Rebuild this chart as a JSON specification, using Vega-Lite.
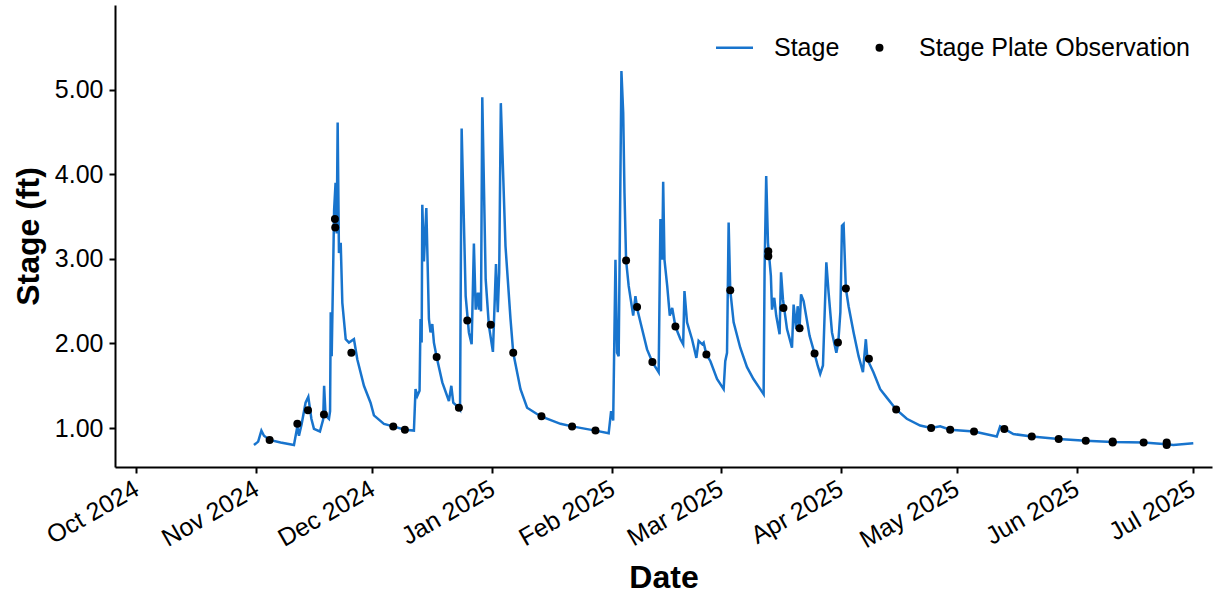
{
  "$schema": "https://vega.github.io/schema/vega-lite/v6.json",
  "width": 1097,
  "height": 462,
  "autosize": {"type": "none"},
  "padding": {"left": 115, "top": 5, "right": 2, "bottom": 129},
  "config": {
    "view": {"stroke": null},
    "font": "Liberation Sans",
    "axis": {
      "grid": false,
      "domainColor": "black",
      "domainWidth": 2,
      "tickColor": "black",
      "tickWidth": 2,
      "tickSize": 6,
      "labelColor": "black",
      "labelFont": "Liberation Sans",
      "labelFontSize": 25,
      "titleFont": "Liberation Sans",
      "titleFontSize": 32,
      "titleFontWeight": "bold",
      "titleColor": "black"
    }
  },
  "datasets": {
    "stage": [
      {"t": "2024-10-31T10:00", "v": 0.80},
      {"t": "2024-11-01T12:00", "v": 0.84},
      {"t": "2024-11-02T08:00", "v": 0.97},
      {"t": "2024-11-03T00:00", "v": 0.91},
      {"t": "2024-11-04T11:00", "v": 0.86},
      {"t": "2024-11-07T07:00", "v": 0.83},
      {"t": "2024-11-10T18:00", "v": 0.80},
      {"t": "2024-11-11T15:00", "v": 1.02},
      {"t": "2024-11-12T01:00", "v": 0.91},
      {"t": "2024-11-12T18:00", "v": 1.05},
      {"t": "2024-11-13T18:00", "v": 1.30},
      {"t": "2024-11-14T11:00", "v": 1.37},
      {"t": "2024-11-15T06:00", "v": 1.11},
      {"t": "2024-11-15T22:00", "v": 0.99},
      {"t": "2024-11-17T11:00", "v": 0.96},
      {"t": "2024-11-18T07:00", "v": 1.10},
      {"t": "2024-11-18T13:00", "v": 1.50},
      {"t": "2024-11-18T22:00", "v": 1.15},
      {"t": "2024-11-19T19:00", "v": 1.11},
      {"t": "2024-11-20T02:00", "v": 1.20},
      {"t": "2024-11-20T06:00", "v": 2.37},
      {"t": "2024-11-20T12:00", "v": 1.85},
      {"t": "2024-11-20T21:00", "v": 2.87},
      {"t": "2024-11-21T03:00", "v": 3.58},
      {"t": "2024-11-21T12:00", "v": 3.90},
      {"t": "2024-11-21T19:00", "v": 3.30},
      {"t": "2024-11-22T01:00", "v": 4.61},
      {"t": "2024-11-22T09:00", "v": 3.07},
      {"t": "2024-11-22T20:00", "v": 3.19},
      {"t": "2024-11-23T06:00", "v": 2.48},
      {"t": "2024-11-24T03:00", "v": 2.05},
      {"t": "2024-11-24T23:00", "v": 2.01},
      {"t": "2024-11-26T06:00", "v": 2.05},
      {"t": "2024-11-27T03:00", "v": 1.81},
      {"t": "2024-11-28T20:00", "v": 1.50},
      {"t": "2024-11-30T13:00", "v": 1.30},
      {"t": "2024-12-01T10:00", "v": 1.15},
      {"t": "2024-12-04T00:00", "v": 1.05},
      {"t": "2024-12-06T10:00", "v": 1.02},
      {"t": "2024-12-09T10:00", "v": 0.98},
      {"t": "2024-12-11T18:00", "v": 0.97},
      {"t": "2024-12-12T04:00", "v": 1.46},
      {"t": "2024-12-12T15:00", "v": 1.38},
      {"t": "2024-12-13T05:00", "v": 1.44},
      {"t": "2024-12-13T11:00", "v": 2.29},
      {"t": "2024-12-13T18:00", "v": 2.01},
      {"t": "2024-12-13T22:00", "v": 3.64},
      {"t": "2024-12-14T08:00", "v": 2.97},
      {"t": "2024-12-14T23:00", "v": 3.60},
      {"t": "2024-12-15T15:00", "v": 2.29},
      {"t": "2024-12-16T01:00", "v": 2.13},
      {"t": "2024-12-16T12:00", "v": 2.23},
      {"t": "2024-12-16T22:00", "v": 2.01},
      {"t": "2024-12-17T15:00", "v": 1.84},
      {"t": "2024-12-19T02:00", "v": 1.54},
      {"t": "2024-12-20T19:00", "v": 1.32},
      {"t": "2024-12-21T10:00", "v": 1.50},
      {"t": "2024-12-21T22:00", "v": 1.30},
      {"t": "2024-12-23T09:00", "v": 1.24},
      {"t": "2024-12-23T16:00", "v": 1.22},
      {"t": "2024-12-24T02:00", "v": 4.54},
      {"t": "2024-12-25T03:00", "v": 2.56},
      {"t": "2024-12-25T23:00", "v": 2.13},
      {"t": "2024-12-26T16:00", "v": 1.99},
      {"t": "2024-12-27T06:00", "v": 3.18},
      {"t": "2024-12-27T17:00", "v": 2.40},
      {"t": "2024-12-28T07:00", "v": 2.60},
      {"t": "2024-12-28T13:00", "v": 2.40},
      {"t": "2024-12-28T19:00", "v": 2.60},
      {"t": "2024-12-29T02:00", "v": 2.38},
      {"t": "2024-12-29T10:00", "v": 4.91},
      {"t": "2024-12-30T07:00", "v": 2.76},
      {"t": "2024-12-31T03:00", "v": 2.21},
      {"t": "2025-01-01T04:00", "v": 1.90},
      {"t": "2025-01-01T23:00", "v": 2.94},
      {"t": "2025-01-02T10:00", "v": 2.37},
      {"t": "2025-01-02T19:00", "v": 2.84},
      {"t": "2025-01-03T05:00", "v": 4.84},
      {"t": "2025-01-04T10:00", "v": 3.15},
      {"t": "2025-01-05T17:00", "v": 2.29},
      {"t": "2025-01-06T10:00", "v": 1.89},
      {"t": "2025-01-08T07:00", "v": 1.46},
      {"t": "2025-01-10T00:00", "v": 1.24},
      {"t": "2025-01-13T11:00", "v": 1.14},
      {"t": "2025-01-18T15:00", "v": 1.05},
      {"t": "2025-01-21T15:00", "v": 1.02},
      {"t": "2025-01-27T16:00", "v": 0.97},
      {"t": "2025-01-31T02:00", "v": 0.94},
      {"t": "2025-01-31T17:00", "v": 1.20},
      {"t": "2025-02-01T06:00", "v": 1.09},
      {"t": "2025-02-01T20:00", "v": 2.99},
      {"t": "2025-02-02T06:00", "v": 1.89},
      {"t": "2025-02-02T16:00", "v": 1.85},
      {"t": "2025-02-02T23:00", "v": 3.21},
      {"t": "2025-02-03T09:00", "v": 5.22},
      {"t": "2025-02-03T20:00", "v": 4.73},
      {"t": "2025-02-04T04:00", "v": 3.78},
      {"t": "2025-02-04T14:00", "v": 2.98},
      {"t": "2025-02-05T06:00", "v": 2.68},
      {"t": "2025-02-06T10:00", "v": 2.33},
      {"t": "2025-02-07T00:00", "v": 2.56},
      {"t": "2025-02-07T12:00", "v": 2.40},
      {"t": "2025-02-08T07:00", "v": 2.25},
      {"t": "2025-02-10T00:00", "v": 1.93},
      {"t": "2025-02-11T09:00", "v": 1.78},
      {"t": "2025-02-13T00:00", "v": 1.66},
      {"t": "2025-02-13T11:00", "v": 3.47},
      {"t": "2025-02-13T22:00", "v": 2.99},
      {"t": "2025-02-14T04:00", "v": 3.91},
      {"t": "2025-02-14T12:00", "v": 2.99},
      {"t": "2025-02-15T05:00", "v": 2.68},
      {"t": "2025-02-15T21:00", "v": 2.33},
      {"t": "2025-02-16T12:00", "v": 2.42},
      {"t": "2025-02-17T08:00", "v": 2.20},
      {"t": "2025-02-18T15:00", "v": 2.05},
      {"t": "2025-02-19T08:00", "v": 1.99},
      {"t": "2025-02-19T16:00", "v": 2.62},
      {"t": "2025-02-20T08:00", "v": 2.25},
      {"t": "2025-02-21T15:00", "v": 2.05},
      {"t": "2025-02-22T18:00", "v": 1.83},
      {"t": "2025-02-23T08:00", "v": 2.03},
      {"t": "2025-02-24T06:00", "v": 1.99},
      {"t": "2025-02-24T15:00", "v": 2.01},
      {"t": "2025-02-25T08:00", "v": 1.87},
      {"t": "2025-02-26T09:00", "v": 1.79},
      {"t": "2025-02-28T02:00", "v": 1.58},
      {"t": "2025-03-01T19:00", "v": 1.46},
      {"t": "2025-03-02T05:00", "v": 1.79},
      {"t": "2025-03-02T16:00", "v": 1.89},
      {"t": "2025-03-03T02:00", "v": 3.43},
      {"t": "2025-03-03T12:00", "v": 2.63},
      {"t": "2025-03-04T09:00", "v": 2.25},
      {"t": "2025-03-06T02:00", "v": 1.95},
      {"t": "2025-03-07T20:00", "v": 1.72},
      {"t": "2025-03-09T12:00", "v": 1.58},
      {"t": "2025-03-11T06:00", "v": 1.46},
      {"t": "2025-03-12T03:00", "v": 1.40},
      {"t": "2025-03-12T09:00", "v": 2.87},
      {"t": "2025-03-12T19:00", "v": 3.98},
      {"t": "2025-03-13T06:00", "v": 3.19},
      {"t": "2025-03-14T00:00", "v": 2.80},
      {"t": "2025-03-14T07:00", "v": 2.40},
      {"t": "2025-03-14T21:00", "v": 2.54},
      {"t": "2025-03-15T09:00", "v": 2.33},
      {"t": "2025-03-16T06:00", "v": 2.11},
      {"t": "2025-03-16T15:00", "v": 2.84},
      {"t": "2025-03-17T03:00", "v": 2.52},
      {"t": "2025-03-18T04:00", "v": 2.17},
      {"t": "2025-03-19T11:00", "v": 1.95},
      {"t": "2025-03-19T21:00", "v": 2.46},
      {"t": "2025-03-20T13:00", "v": 2.17},
      {"t": "2025-03-20T22:00", "v": 2.44},
      {"t": "2025-03-21T10:00", "v": 2.18},
      {"t": "2025-03-21T19:00", "v": 2.58},
      {"t": "2025-03-22T11:00", "v": 2.50},
      {"t": "2025-03-24T00:00", "v": 2.09},
      {"t": "2025-03-25T07:00", "v": 1.88},
      {"t": "2025-03-26T02:00", "v": 1.74},
      {"t": "2025-03-26T18:00", "v": 1.64},
      {"t": "2025-03-27T11:00", "v": 1.74},
      {"t": "2025-03-28T08:00", "v": 2.96},
      {"t": "2025-03-28T22:00", "v": 2.60},
      {"t": "2025-03-29T19:00", "v": 2.13},
      {"t": "2025-03-30T22:00", "v": 1.89},
      {"t": "2025-03-31T10:00", "v": 2.01},
      {"t": "2025-03-31T23:00", "v": 2.37},
      {"t": "2025-04-01T09:00", "v": 3.39},
      {"t": "2025-04-01T19:00", "v": 3.41},
      {"t": "2025-04-02T09:00", "v": 2.65},
      {"t": "2025-04-03T02:00", "v": 2.44},
      {"t": "2025-04-04T09:00", "v": 2.13},
      {"t": "2025-04-05T16:00", "v": 1.85},
      {"t": "2025-04-06T19:00", "v": 1.66},
      {"t": "2025-04-07T13:00", "v": 2.05},
      {"t": "2025-04-07T23:00", "v": 1.81},
      {"t": "2025-04-09T12:00", "v": 1.66},
      {"t": "2025-04-11T06:00", "v": 1.46},
      {"t": "2025-04-12T23:00", "v": 1.36},
      {"t": "2025-04-15T09:00", "v": 1.22},
      {"t": "2025-04-18T03:00", "v": 1.11},
      {"t": "2025-04-21T14:00", "v": 1.03},
      {"t": "2025-04-24T10:00", "v": 1.00},
      {"t": "2025-04-26T18:00", "v": 1.02},
      {"t": "2025-04-29T08:00", "v": 0.98},
      {"t": "2025-05-05T12:00", "v": 0.96},
      {"t": "2025-05-11T09:00", "v": 0.90},
      {"t": "2025-05-12T06:00", "v": 1.02},
      {"t": "2025-05-13T08:00", "v": 0.99},
      {"t": "2025-05-15T16:00", "v": 0.93},
      {"t": "2025-05-20T10:00", "v": 0.90},
      {"t": "2025-05-27T09:00", "v": 0.87},
      {"t": "2025-06-03T09:00", "v": 0.85},
      {"t": "2025-06-10T08:00", "v": 0.835},
      {"t": "2025-06-18T08:00", "v": 0.83},
      {"t": "2025-06-24T07:00", "v": 0.81},
      {"t": "2025-06-26T00:00", "v": 0.80},
      {"t": "2025-07-01T04:00", "v": 0.82}
    ],
    "obs": [
      {"t": "2024-11-04T11:00", "v": 0.86},
      {"t": "2024-11-11T15:00", "v": 1.05},
      {"t": "2024-11-14T09:00", "v": 1.21},
      {"t": "2024-11-18T12:00", "v": 1.16},
      {"t": "2024-11-21T08:00", "v": 3.47},
      {"t": "2024-11-21T10:00", "v": 3.37},
      {"t": "2024-11-25T14:00", "v": 1.89},
      {"t": "2024-12-06T10:00", "v": 1.02},
      {"t": "2024-12-09T10:00", "v": 0.98},
      {"t": "2024-12-17T15:00", "v": 1.84},
      {"t": "2024-12-23T09:00", "v": 1.24},
      {"t": "2024-12-25T13:00", "v": 2.27},
      {"t": "2024-12-31T14:00", "v": 2.22},
      {"t": "2025-01-06T10:00", "v": 1.89},
      {"t": "2025-01-13T17:00", "v": 1.14},
      {"t": "2025-01-21T15:00", "v": 1.02},
      {"t": "2025-01-27T16:00", "v": 0.97},
      {"t": "2025-02-04T14:00", "v": 2.98},
      {"t": "2025-02-07T10:00", "v": 2.43},
      {"t": "2025-02-11T09:00", "v": 1.78},
      {"t": "2025-02-17T08:00", "v": 2.20},
      {"t": "2025-02-25T08:00", "v": 1.87},
      {"t": "2025-03-03T12:00", "v": 2.63},
      {"t": "2025-03-13T08:00", "v": 3.09},
      {"t": "2025-03-13T08:00", "v": 3.03},
      {"t": "2025-03-17T06:00", "v": 2.42},
      {"t": "2025-03-21T10:00", "v": 2.18},
      {"t": "2025-03-25T07:00", "v": 1.88},
      {"t": "2025-03-31T08:00", "v": 2.01},
      {"t": "2025-04-02T09:00", "v": 2.65},
      {"t": "2025-04-08T08:00", "v": 1.82},
      {"t": "2025-04-15T09:00", "v": 1.22},
      {"t": "2025-04-24T10:00", "v": 1.00},
      {"t": "2025-04-29T08:00", "v": 0.98},
      {"t": "2025-05-05T12:00", "v": 0.96},
      {"t": "2025-05-13T08:00", "v": 0.99},
      {"t": "2025-05-20T10:00", "v": 0.90},
      {"t": "2025-05-27T09:00", "v": 0.87},
      {"t": "2025-06-03T09:00", "v": 0.85},
      {"t": "2025-06-10T08:00", "v": 0.84},
      {"t": "2025-06-10T08:00", "v": 0.83},
      {"t": "2025-06-18T08:00", "v": 0.83},
      {"t": "2025-06-24T07:00", "v": 0.83},
      {"t": "2025-06-24T07:00", "v": 0.80}
    ]
  },
  "encoding": {
    "x": {
      "field": "t",
      "type": "temporal",
      "title": "Date",
      "scale": {
        "domain": [
          {"year": 2024, "month": 9, "date": 25, "hours": 12},
          {"year": 2025, "month": 7, "date": 6}
        ]
      },
      "axis": {
        "values": [
          {"year": 2024, "month": 10, "date": 1},
          {"year": 2024, "month": 11, "date": 1},
          {"year": 2024, "month": 12, "date": 1},
          {"year": 2025, "month": 1, "date": 1},
          {"year": 2025, "month": 2, "date": 1},
          {"year": 2025, "month": 3, "date": 1},
          {"year": 2025, "month": 4, "date": 1},
          {"year": 2025, "month": 5, "date": 1},
          {"year": 2025, "month": 6, "date": 1},
          {"year": 2025, "month": 7, "date": 1}
        ],
        "format": "%b %Y",
        "labelAngle": -30,
        "labelAlign": "right",
        "labelBaseline": "top",
        "labelPadding": 3,
        "labelOffset": -6,
        "labelOverlap": false,
        "labelFlush": false,
        "titlePadding": 10
      }
    },
    "y": {
      "field": "v",
      "type": "quantitative",
      "title": "Stage (ft)",
      "scale": {"domain": [0.54, 6.0], "nice": false, "zero": false},
      "axis": {
        "values": [1, 2, 3, 4, 5],
        "format": ".2f",
        "labelPadding": 6,
        "titlePadding": 9
      }
    }
  },
  "layer": [
    {
      "data": {"name": "stage"},
      "mark": {"type": "line", "strokeWidth": 2.5, "clip": true},
      "encoding": {
        "color": {
          "datum": "Stage",
          "type": "nominal",
          "scale": {
            "domain": ["Stage", "Stage Plate Observation"],
            "range": ["#1874CD", "black"]
          },
          "legend": {
            "orient": "none",
            "legendX": 607,
            "legendY": 30,
            "direction": "horizontal",
            "title": null,
            "padding": 0,
            "labelFont": "Liberation Sans",
            "labelFontSize": 25,
            "labelColor": "black",
            "labelLimit": 0,
            "symbolSize": 1369,
            "labelOffset": 27,
            "columnPadding": 27,
            "encode": {
              "symbols": {
                "update": {
                  "shape": {"signal": "datum.value === 'Stage' ? 'stroke' : 'circle'"},
                  "size": {"signal": "datum.value === 'Stage' ? 1369 : 30"},
                  "stroke": {"signal": "datum.value === 'Stage' ? '#1874CD' : 'transparent'"},
                  "fill": {"signal": "datum.value === 'Stage' ? 'transparent' : 'black'"},
                  "strokeWidth": {"value": 2.5},
                  "opacity": {"value": 1}
                }
              }
            }
          }
        }
      }
    },
    {
      "data": {"name": "obs"},
      "mark": {"type": "point", "filled": true, "size": 64, "opacity": 1},
      "encoding": {
        "color": {"datum": "Stage Plate Observation", "type": "nominal"}
      }
    }
  ]
}
